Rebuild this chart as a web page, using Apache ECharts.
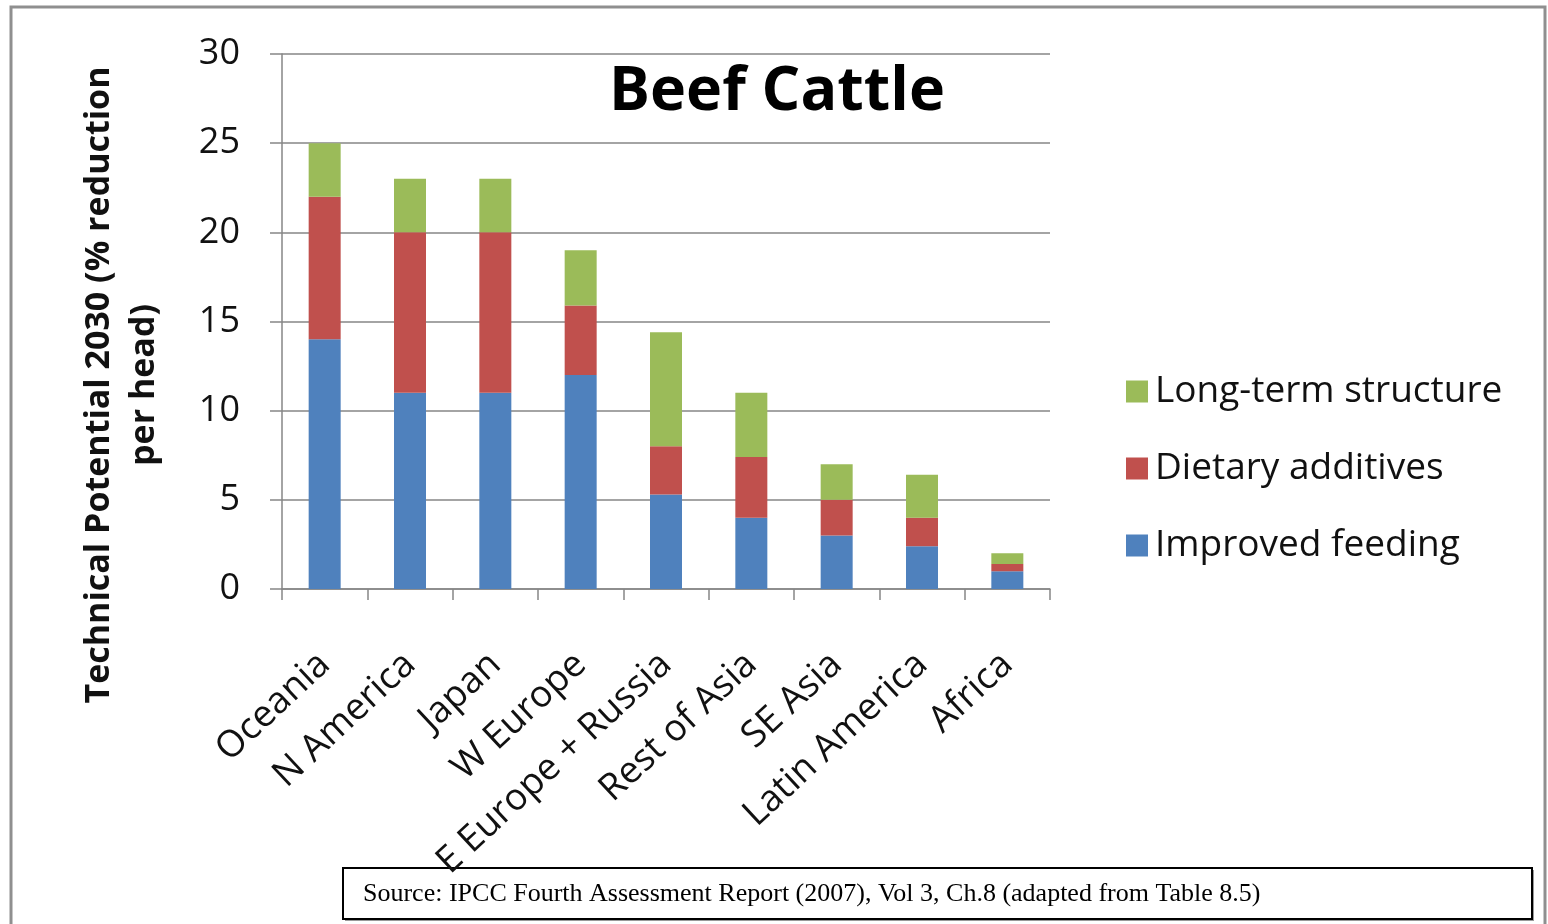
<!DOCTYPE html>
<html>
<head>
<meta charset="utf-8">
<title>Beef Cattle</title>
<script src="https://cdn.jsdelivr.net/npm/echarts@6/dist/echarts.min.js"></script>
<style>
  html, body { margin: 0; padding: 0; background: #ffffff; }
  #chart { width: 1548px; height: 924px; }
</style>
</head>
<body>
<div id="chart"></div>
<script>
// Regions, ordered by total technical potential
const regions = ['Oceania', 'N America', 'Japan', 'W Europe', 'E Europe + Russia',
                 'Rest of Asia', 'SE Asia', 'Latin America', 'Africa'];
// % reduction per head by measure (stacked bottom to top)
const improvedFeeding   = [14, 11, 11, 12, 5.3, 4, 3, 2.4, 1];
const dietaryAdditives  = [8, 9, 9, 3.9, 2.7, 3.4, 2, 1.6, 0.4];
const longTermStructure = [3, 3, 3, 3.1, 6.4, 3.6, 2, 2.4, 0.6];
const yTicks = [0, 5, 10, 15, 20, 25, 30];

const FONT = '"Open Sans", "DejaVu Sans", sans-serif';
const GRID = '#868686';

const chart = echarts.init(document.getElementById('chart'), null, { renderer: 'canvas' });

function barSeries(name, data, color) {
  return {
    name: name,
    type: 'bar',
    stack: 'total',
    data: data,
    barWidth: 32,
    itemStyle: { color: color },
    emphasis: { disabled: true }
  };
}

chart.setOption({
  animation: false,
  backgroundColor: '#ffffff',
  grid: { left: 282, right: 498, top: 54, bottom: 335, containLabel: false },
  xAxis: {
    type: 'category',
    data: regions,
    axisLine: { lineStyle: { color: GRID, width: 1.5 } },
    axisTick: { show: true, alignWithLabel: false, length: 11, lineStyle: { color: GRID, width: 1.5 } },
    axisLabel: {
      interval: 0,
      rotate: 43,
      margin: 70,
      color: '#111',
      fontFamily: FONT,
      fontSize: 37
    }
  },
  yAxis: {
    type: 'value',
    min: yTicks[0],
    max: yTicks[yTicks.length - 1],
    interval: 5,
    axisLine: { show: true, lineStyle: { color: GRID, width: 1.5 } },
    axisTick: { show: true, length: 12, lineStyle: { color: GRID, width: 1.5 } },
    splitLine: { show: true, lineStyle: { color: GRID, width: 1.5 } },
    axisLabel: {
      margin: 42,
      color: '#111',
      fontFamily: FONT,
      fontSize: 36
    }
  },
  legend: {
    orient: 'vertical',
    left: 1121,
    top: 368,
    icon: 'rect',
    itemWidth: 22,
    itemHeight: 22,
    itemGap: 40,
    selectedMode: false,
    data: ['Long-term structure', 'Dietary additives', 'Improved feeding'],
    textStyle: {
      fontFamily: FONT,
      fontSize: 37,
      color: '#111',
      lineHeight: 36,
      padding: [0, 0, 0, 2]
    }
  },
  series: [
    barSeries('Improved feeding', improvedFeeding, '#4F81BD'),
    barSeries('Dietary additives', dietaryAdditives, '#C0504D'),
    barSeries('Long-term structure', longTermStructure, '#9BBB59')
  ],
  graphic: [
    {
      type: 'rect',
      z: 0,
      silent: true,
      shape: { x: 11, y: 7, width: 1534, height: 930 },
      style: { fill: 'none', stroke: '#8f8f8f', lineWidth: 3 }
    },
    {
      type: 'text',
      z: 10,
      x: 777,
      y: 93,
      style: {
        text: 'Beef Cattle',
        font: 'bold 61px ' + FONT,
        fill: '#000',
        textAlign: 'center',
        textVerticalAlign: 'middle'
      }
    },
    {
      // y-axis title, two lines, reading bottom to top
      type: 'text',
      z: 10,
      x: 122,
      y: 385,
      rotation: Math.PI / 2,
      style: {
        text: 'Technical Potential 2030 (% reduction\nper head)',
        font: 'bold 34px ' + FONT,
        lineHeight: 45,
        fill: '#111',
        textAlign: 'center',
        textVerticalAlign: 'middle'
      }
    },
    {
      type: 'group',
      z: 20,
      children: [
        {
          type: 'rect',
          shape: { x: 345, y: 870, width: 1189, height: 51 },
          style: { fill: '#9a9a9a' }
        },
        {
          type: 'rect',
          shape: { x: 343, y: 868, width: 1189, height: 51 },
          style: { fill: '#ffffff', stroke: '#000', lineWidth: 2 }
        },
        {
          type: 'text',
          x: 363,
          y: 894,
          style: {
            text: 'Source: IPCC Fourth Assessment Report (2007), Vol 3, Ch.8 (adapted from Table 8.5)',
            font: '26px "Liberation Serif", "Times New Roman", serif',
            fill: '#000',
            textVerticalAlign: 'middle'
          }
        }
      ]
    }
  ]
});
</script>
</body>
</html>
